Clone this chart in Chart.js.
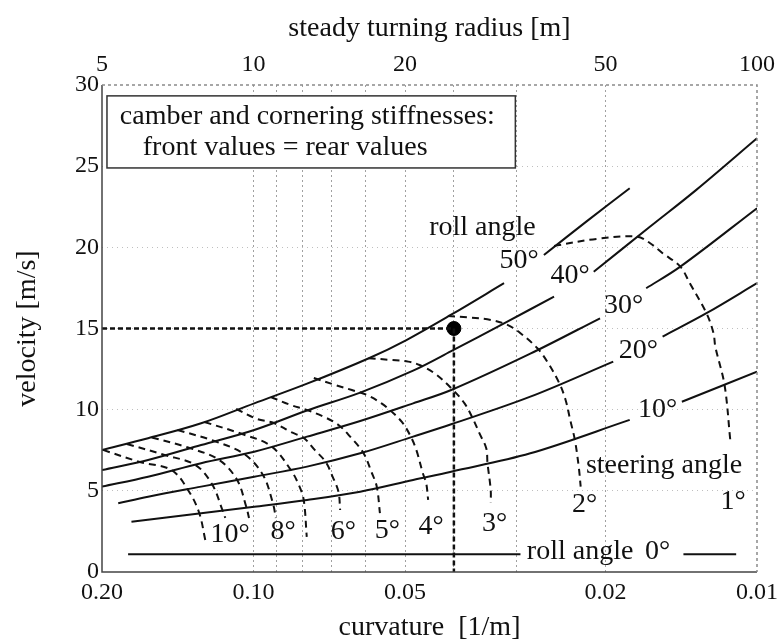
<!DOCTYPE html>
<html><head><meta charset="utf-8">
<script src="https://cdn.jsdelivr.net/npm/chart.js@4.4.1/dist/chart.umd.min.js"></script>
<style>html,body{margin:0;padding:0;background:#fff;}canvas{display:block;}</style>
</head><body>
<canvas id="c" width="784" height="644"></canvas>
<script>
// ---------- axes ----------
const xTickValues = [0.2, 0.1, 0.05, 0.02, 0.01];
const xTickLabels = ['0.20', '0.10', '0.05', '0.02', '0.01'];
const xGridValues = [0.1, 0.09, 0.08, 0.07, 0.06, 0.05, 0.04, 0.03, 0.02];
const radiusTicks = [5, 10, 20, 50, 100];
const yTicks = [0, 5, 10, 15, 20, 25, 30];

// ---------- roll angle curves (curvature [1/m], velocity [m/s]); null = gap for label ----------
const roll50K = [0.2, 0.162, 0.1271, 0.0997, 0.0783, 0.0587, 0.0497, 0.0405, 0.0318, 0.029, 0.0265, 0.0218, 0.0179];
const roll50V = [7.52, 8.24, 9.16, 10.39, 11.6, 13.2, 14.29, 15.85, 17.79, null, 19.53, 21.6, 23.64];
const roll40K = [0.2, 0.162, 0.1271, 0.0997, 0.0783, 0.0614, 0.0482, 0.0405, 0.0318, 0.0253, 0.023, 0.0211, 0.0163, 0.0132, 0.01];
const roll40V = [6.28, 6.9, 7.82, 8.75, 9.95, 11.05, 12.4, 13.6, 15.32, 16.96, null, 18.5, 21.28, 23.54, 26.72];
const roll30K = [0.2, 0.162, 0.1271, 0.0997, 0.0783, 0.0614, 0.0482, 0.0405, 0.0282, 0.0205, 0.018, 0.0166, 0.0142, 0.01];
const roll30V = [5.26, 5.87, 6.7, 7.41, 8.34, 9.3, 10.39, 11.21, 13.45, 15.63, null, 17.48, 18.81, 22.41];
const roll20K = [0.1857, 0.162, 0.1271, 0.0997, 0.0783, 0.0614, 0.0482, 0.0405, 0.0282, 0.0193, 0.017, 0.0154, 0.0126, 0.01];
const roll20V = [4.23, 4.64, 5.26, 5.87, 6.49, 7.31, 8.34, 9.1, 10.8, 12.96, null, 14.5, 15.94, 17.79];
const roll10K = [0.1748, 0.1271, 0.0997, 0.0783, 0.0614, 0.0482, 0.0405, 0.0282, 0.0179, 0.016, 0.0141, 0.01];
const roll10V = [3.1, 3.62, 4.02, 4.44, 4.95, 5.67, 6.18, 7.31, 9.37, null, 10.49, 12.34];
const roll0K = [0.1775, 0.0295];
const roll0V = [1.1, 1.1];
const roll0KeyK = [0.014, 0.011];
const roll0KeyV = [1.1, 1.1];

// ---------- steering angle curves ----------
const steer1K = [0.0253, 0.0208, 0.0173, 0.0163, 0.0154, 0.0142, 0.0136, 0.0126, 0.0122, 0.0121, 0.0116, 0.0113];
const steer1V = [20.09, 20.52, 20.66, 20.25, 19.64, 18.81, 17.79, 15.94, 14.71, 13.88, 11.52, 8.13];
const steer2K = [0.0411, 0.0375, 0.0338, 0.0313, 0.0295, 0.0273, 0.0261, 0.0247, 0.024, 0.0235, 0.023, 0.0226, 0.0224];
const steer2V = [15.77, 15.69, 15.53, 15.22, 14.71, 13.78, 12.96, 11.63, 10.6, 9.37, 8.13, 6.49, 5.26];
const steer3K = [0.0591, 0.0532, 0.0493, 0.0468, 0.0437, 0.0403, 0.0381, 0.0367, 0.0356, 0.0345, 0.0343, 0.0338, 0.0338];
const steer3V = [13.17, 13.06, 12.96, 12.75, 12.24, 11.26, 10.39, 9.47, 8.55, 7.62, 6.7, 5.05, 4.25];
const steer4K = [0.0759, 0.0688, 0.0638, 0.0596, 0.0557, 0.0532, 0.0508, 0.0489, 0.0475, 0.0461, 0.0454, 0.045];
const steer4V = [11.95, 11.52, 11.21, 10.91, 10.39, 9.88, 9.26, 8.44, 7.52, 6.08, 5.47, 4.44];
const steer5K = [0.0924, 0.0844, 0.0783, 0.0726, 0.0678, 0.0643, 0.0605, 0.0583, 0.0569, 0.0561];
const steer5V = [10.78, 10.29, 9.98, 9.57, 9.06, 8.34, 7.33, 6.16, 5.24, 3.62];
const steer6K = [0.1083, 0.0984, 0.0911, 0.0844, 0.0795, 0.0756, 0.0719, 0.0696, 0.0678, 0.0673];
const steer6V = [10.04, 9.43, 9.18, 8.63, 8.26, 7.52, 6.78, 5.85, 4.93, 3.82];
const steer7K = [0.1252, 0.1054, 0.0923, 0.0843, 0.0813, 0.0795, 0.0784];
const steer7V = [9.24, 8.5, 7.76, 6.28, 5.36, 4.44, 2.16];
const steer8K = [0.1416, 0.1197, 0.1044, 0.0958, 0.0915, 0.0903];
const steer8V = [8.75, 8.07, 7.27, 5.98, 4.22, 3.33];
const steer9K = [0.1593, 0.134, 0.117, 0.1078, 0.1035, 0.1021];
const steer9V = [8.29, 7.64, 6.9, 5.67, 4.07, 3.33];
const steer10K = [0.1785, 0.1502, 0.1304, 0.1208, 0.1154, 0.1138];
const steer10V = [7.89, 7.21, 6.59, 5.39, 3.85, 3.33];
const steer11K = [0.1991, 0.1683, 0.1455, 0.134, 0.1281, 0.1247];
const steer11V = [7.52, 6.78, 6.28, 4.9, 3.6, 1.97];

// ---------- example operating point ----------
const markerK = [0.2, 0.04, 0.04];
const markerV = [15, 15, 0];
const pointK = [0.04];
const pointV = [15];

// ---------- texts ----------
const noteText = ['roll angle', '50°', '40°', '30°', '20°', '10°', 'steering angle', '1°', '2°', '3°', '4°', '5°', '6°', '8°', '10°', 'roll angle', '0°'];
const noteK = [0.0351, 0.0297, 0.0235, 0.0184, 0.0172, 0.01575, 0.0153, 0.01115, 0.022, 0.0332, 0.0444, 0.0542, 0.0663, 0.0874, 0.1113, 0.02246, 0.01575];
const noteV = [21.2, 19.16, 18.24, 16.39, 13.62, 9.98, 6.53, 4.31, 4.13, 2.96, 2.77, 2.53, 2.46, 2.46, 2.28, 1.23, 1.23];
const boxLines = ['camber and cornering stiffnesses:', 'front values = rear values'];
const boxLineK = [0.1843, 0.166];
const boxLineV = [28.03, 26.12];
const boxK = [0.1955, 0.0302];
const boxV = [29.33, 24.89];

// ---------- build ----------
const FONT = "'Liberation Serif', 'Times New Roman', serif";
const pts = (k, v) => k.map((x, i) => ({x: x, y: v[i]}));
const solid = (k, v) => ({data: pts(k, v), borderColor: '#111', borderWidth: 2, pointRadius: 0, tension: 0.35, spanGaps: false, fill: false});
const dashed = (k, v) => ({data: pts(k, v), borderColor: '#111', borderWidth: 2, borderDash: [7, 5], pointRadius: 0, tension: 0.35, fill: false});

const datasets = [
  solid(roll50K, roll50V), solid(roll40K, roll40V), solid(roll30K, roll30V),
  solid(roll20K, roll20V), solid(roll10K, roll10V), solid(roll0K, roll0V), solid(roll0KeyK, roll0KeyV),
  dashed(steer1K, steer1V), dashed(steer2K, steer2V), dashed(steer3K, steer3V), dashed(steer4K, steer4V),
  dashed(steer5K, steer5V), dashed(steer6K, steer6V), dashed(steer7K, steer7V), dashed(steer8K, steer8V),
  dashed(steer9K, steer9V), dashed(steer10K, steer10V), dashed(steer11K, steer11V),
  {data: pts(markerK, markerV), borderColor: '#111', borderWidth: 2.5, borderDash: [5, 3], pointRadius: 0, tension: 0, fill: false},
  {data: pts(pointK, pointV), showLine: false, pointRadius: 7, pointBackgroundColor: '#000', pointBorderColor: '#000'}
];

const deco = {
  id: 'deco',
  afterDraw(chart) {
    const {ctx, chartArea: a, scales} = chart;
    const X = k => scales.x.getPixelForValue(k);
    const Y = v => scales.y.getPixelForValue(v);
    ctx.save();
    // frame
    ctx.lineWidth = 1.5; ctx.strokeStyle = '#444'; ctx.setLineDash([]);
    ctx.beginPath(); ctx.moveTo(a.left, a.top); ctx.lineTo(a.left, a.bottom); ctx.lineTo(a.right, a.bottom); ctx.stroke();
    ctx.strokeStyle = '#8a8a8a'; ctx.setLineDash([3, 3]);
    ctx.beginPath(); ctx.moveTo(a.left, a.top); ctx.lineTo(a.right, a.top); ctx.lineTo(a.right, a.bottom); ctx.stroke();
    // text box
    ctx.setLineDash([]);
    const bx0 = X(boxK[0]), bx1 = X(boxK[1]), by0 = Y(boxV[0]), by1 = Y(boxV[1]);
    ctx.fillStyle = '#fff'; ctx.fillRect(bx0, by0, bx1 - bx0, by1 - by0);
    ctx.strokeStyle = '#333'; ctx.lineWidth = 1.5; ctx.strokeRect(bx0, by0, bx1 - bx0, by1 - by0);
    ctx.fillStyle = '#111';
    ctx.font = '28px ' + FONT;
    ctx.textBaseline = 'middle'; ctx.textAlign = 'left';
    boxLines.forEach((t, i) => ctx.fillText(t, X(boxLineK[i]), Y(boxLineV[i])));
    // notes
    ctx.textAlign = 'center';
    noteText.forEach((t, i) => ctx.fillText(t, X(noteK[i]), Y(noteV[i])));
    ctx.restore();
  }
};

new Chart(document.getElementById('c'), {
  type: 'line',
  data: {datasets},
  plugins: [deco],
  options: {
    responsive: false, animation: false, devicePixelRatio: 1,
    layout: {padding: {left: 0, right: 23, top: 0, bottom: 0}},
    plugins: {legend: {display: false}, tooltip: {enabled: false}},
    scales: {
      x: {
        type: 'logarithmic', position: 'bottom', reverse: true, min: 0.01, max: 0.2,
        afterBuildTicks: s => { s.ticks = [0.2].concat(xGridValues, [0.01]).map(v => ({value: v})); },
        afterFit: s => { s.height = 72; },
        border: {display: false, dash: [2, 3]},
        grid: {drawTicks: false, lineWidth: 1,
               color: c => (c.tick && (c.tick.value === 0.2 || c.tick.value === 0.01)) ? 'rgba(0,0,0,0)' : '#a0a0a0'},
        ticks: {autoSkip: false, maxRotation: 0, minRotation: 0, padding: 6, color: '#111',
                font: {family: FONT, size: 24},
                callback: v => { const i = xTickValues.indexOf(v); return i >= 0 ? xTickLabels[i] : ''; }},
        title: {display: true, text: 'curvature  [1/m]', color: '#111', font: {family: FONT, size: 28}, padding: {top: 0, bottom: 0}}
      },
      xTop: {
        type: 'logarithmic', position: 'top', min: 5, max: 100,
        afterBuildTicks: s => { s.ticks = radiusTicks.map(v => ({value: v})); },
        afterFit: s => { s.height = 85; },
        border: {display: false},
        grid: {display: false, drawTicks: false},
        ticks: {autoSkip: false, maxRotation: 0, minRotation: 0, padding: 6, color: '#111',
                font: {family: FONT, size: 24}, callback: v => String(v)},
        title: {display: true, text: 'steady turning radius [m]', color: '#111', font: {family: FONT, size: 28}, padding: {top: 12, bottom: 0}}
      },
      y: {
        type: 'linear', min: 0, max: 30,
        afterBuildTicks: s => { s.ticks = yTicks.map(v => ({value: v})); },
        afterFit: s => { s.width = 102; },
        border: {display: false, dash: [1, 4]},
        grid: {drawTicks: false, lineWidth: 1,
               color: c => (c.tick && (c.tick.value === 0 || c.tick.value === 30)) ? 'rgba(0,0,0,0)' : 'rgba(0,0,0,0.25)'},
        ticks: {padding: 3, color: '#111', font: {family: FONT, size: 24}},
        title: {display: true, text: 'velocity [m/s]', color: '#111', font: {family: FONT, size: 28}, padding: {top: 11, bottom: 0}}
      }
    }
  }
});
</script>
</body></html>
